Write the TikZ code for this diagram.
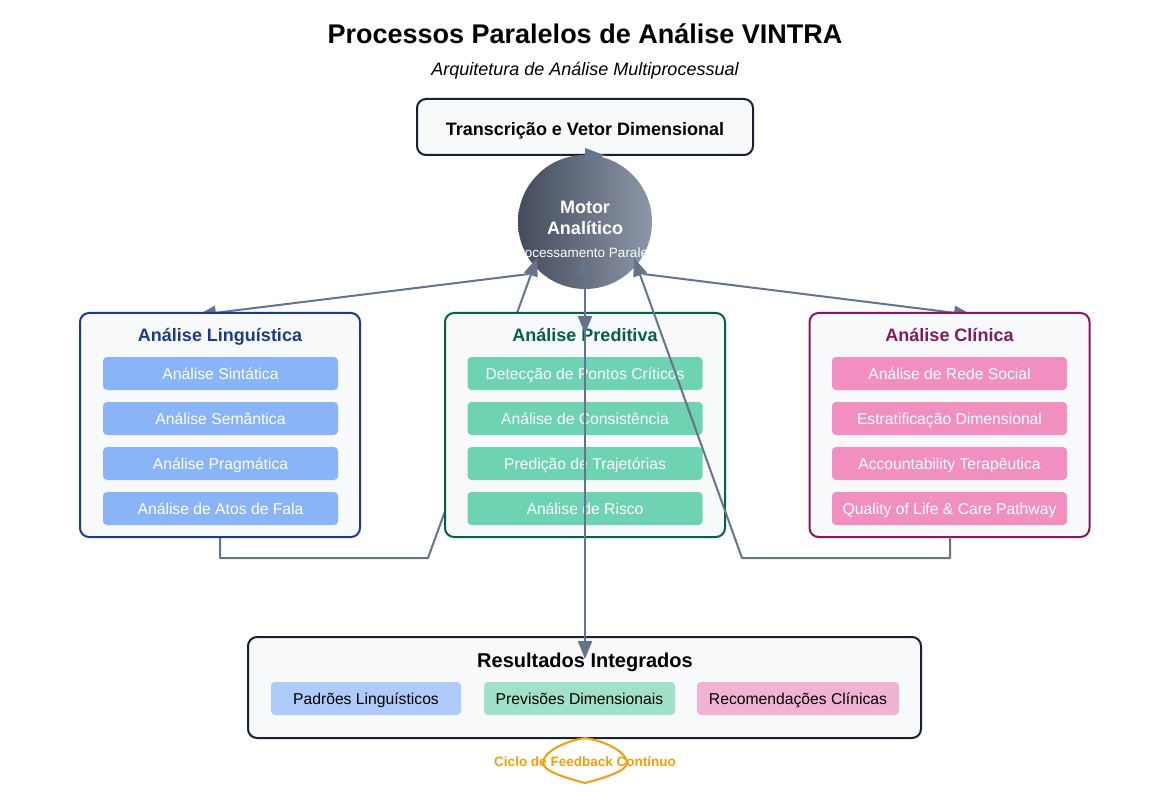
\documentclass[tikz,border=0pt]{standalone}
\usepackage{fontspec}
\setmainfont{Liberation Sans}
\usetikzlibrary{arrows.meta}

\definecolor{ink}{HTML}{1A202C}
\definecolor{panel}{HTML}{F8F9FB}
\definecolor{linkc}{HTML}{64748B}
\definecolor{lingc}{HTML}{1E3A8A}
\definecolor{lingsub}{HTML}{8AB4F8}
\definecolor{predc}{HTML}{065F46}
\definecolor{predsub}{HTML}{6DD3B2}
\definecolor{clinc}{HTML}{831A5E}
\definecolor{clinsub}{HTML}{F08FC0}
\definecolor{reslin}{HTML}{AECBFA}
\definecolor{respred}{HTML}{9FE1C9}
\definecolor{resclin}{HTML}{F1B3D3}
\definecolor{loopc}{HTML}{F59E0B}
\definecolor{motorL}{HTML}{434B5C}
\definecolor{motorR}{HTML}{8C97A8}

\newcommand\fsz[1]{\fontsize{#1}{#1}\selectfont}

\begin{document}
\begin{tikzpicture}[x=1pt,y=-1pt,
  panelbox/.style={draw, line width=2pt, fill=panel, rounded corners=9pt,
    minimum width=280pt, minimum height=224pt, inner sep=0pt},
  subbox/.style={fill=#1, rounded corners=4pt, minimum width=235pt,
    minimum height=33pt, inner sep=0pt, text=white, font=\fsz{15.7},
    text height=11.2pt, text depth=0pt},
  resbox/.style={fill=#1, rounded corners=4pt, minimum height=33pt,
    inner sep=0pt, text=black, font=\fsz{15.7},
    text height=11.2pt, text depth=0pt},
  paneltitle/.style={font=\bfseries\fsz{18}, inner sep=0pt,
    text height=12.9pt, text depth=0pt},
  link/.style={draw=linkc, line width=2pt},
  tip/.style={-{Triangle[length=18pt,width=14pt]}}
]
\useasboundingbox (0,0) rectangle (1170,794);

% headings
\node[font=\bfseries\fsz{27}] (title) at (585,34) {Processos Paralelos de Análise VINTRA};
\node[font=\itshape\fsz{18}] (subtitle) at (585,71) {Arquitetura de Análise Multiprocessual};

% input box
\node[draw=ink, line width=2pt, fill=panel, rounded corners=9pt,
  minimum width=336pt, minimum height=56pt] (input) at (585,127) {};
\node[font=\bfseries\fsz{18}, text height=12.9pt, text depth=0pt, inner sep=0pt]
  (inputt) at (585,129) {Transcrição e Vetor Dimensional};

% analytic engine
\node[circle, minimum size=134pt, inner sep=0pt, left color=motorL, right color=motorR]
  (motor) at (585,222) {};
\node[text=white, font=\bfseries\fsz{18}] (motor1) at (585,207) {Motor};
\node[text=white, font=\bfseries\fsz{18}] (motor2) at (585,228) {Analítico};
\node[text=white, font=\fsz{13.5}] (motor3) at (585,253) {Processamento Paralelo};

% marker at the top of the engine
\fill[fill=linkc] (585,148) -- (605,155.5) -- (585,163) -- cycle;

% anchor points of the connectors
\coordinate (cl) at (529,274);
\coordinate (clt) at (537,258);
\coordinate (cr) at (643,274);
\coordinate (crt) at (634,258);
\coordinate (cc) at (585,257);
\coordinate (lingin) at (198,315);
\coordinate (clinin) at (972,315);
\coordinate (ling-out) at (220,537);
\coordinate (clin-out) at (950,537);
\coordinate (lbend1) at (220,558);
\coordinate (lbend2) at (428,558);
\coordinate (rbend1) at (950,558);
\coordinate (rbend2) at (742,558);

% connectors passing behind the predictive panel
\draw[link, tip] (cl) -- (lingin);
\draw[link, tip] (cr) -- (clinin);
\draw[link, tip, line join=round] (ling-out) -- (lbend1) -- (lbend2) -- (clt);

% linguistic panel
\node[panelbox, draw=lingc] (ling) at (220,425) {};
\node[paneltitle, text=lingc] (lingt) at (220,335) {Análise Linguística};
\node[subbox=lingsub] (l1) at (220.5,373.5) {Análise Sintática};
\node[subbox=lingsub] (l2) at (220.5,418.5) {Análise Semântica};
\node[subbox=lingsub] (l3) at (220.5,463.5) {Análise Pragmática};
\node[subbox=lingsub] (l4) at (220.5,508.5) {Análise de Atos de Fala};

% predictive panel
\node[panelbox, draw=predc] (pred) at (585,425) {};
\node[paneltitle, text=predc] (predt) at (585,335) {Análise Preditiva};
\node[subbox=predsub] (p1) at (585,373.5) {Detecção de Pontos Críticos};
\node[subbox=predsub] (p2) at (585,418.5) {Análise de Consistência};
\node[subbox=predsub] (p3) at (585,463.5) {Predição de Trajetórias};
\node[subbox=predsub] (p4) at (585,508.5) {Análise de Risco};

% clinical panel
\node[panelbox, draw=clinc] (clin) at (949.5,425) {};
\node[paneltitle, text=clinc] (clint) at (949.5,335) {Análise Clínica};
\node[subbox=clinsub] (c1) at (949.5,373.5) {Análise de Rede Social};
\node[subbox=clinsub] (c2) at (949.5,418.5) {Estratificação Dimensional};
\node[subbox=clinsub] (c3) at (949.5,463.5) {Accountability Terapêutica};
\node[subbox=clinsub] (c4) at (949.5,508.5) {Quality of Life \& Care Pathway};

% results panel
\node[draw=ink, line width=2pt, fill=panel, rounded corners=9pt,
  minimum width=673pt, minimum height=101pt] (res) at (584.5,687.5) {};
\node[font=\bfseries\fsz{20}, inner sep=0pt, text height=14.3pt, text depth=0pt]
  (rest) at (585,660) {Resultados Integrados};
\node[resbox=reslin, minimum width=190pt] (r1) at (366,698.5) {Padrões Linguísticos};
\node[resbox=respred, minimum width=191pt] (r2) at (579.5,698.5) {Previsões Dimensionais};
\node[resbox=resclin, minimum width=202pt] (r3) at (798,698.5) {Recomendações Clínicas};

% connectors drawn over the predictive panel
\coordinate (predin) at (585,334);
\coordinate (resin) at (585,659);
\coordinate (vtop) at (585,289);
\coordinate (vmid) at (585,560);
\draw[link, tip, line join=round] (clin-out) -- (rbend1) -- (rbend2) -- (crt);
\draw[link, tip] (vmid) -- (cc);
\draw[link, tip] (vtop) -- (predin);
\draw[link, tip] (vmid) -- (resin);

% feedback loop
\draw[loopc, line width=2pt] (585,738)
  .. controls (565,741) and (543,752) .. (543,763)
  .. controls (543,771) and (566,778) .. (585,783)
  .. controls (604,778) and (627,771) .. (627,763)
  .. controls (627,752) and (605,741) .. (585,738);
\node[text=loopc, font=\bfseries\fsz{13.5}] (loop) at (585,762) {Ciclo de Feedback Contínuo};
\end{tikzpicture}
\end{document}
